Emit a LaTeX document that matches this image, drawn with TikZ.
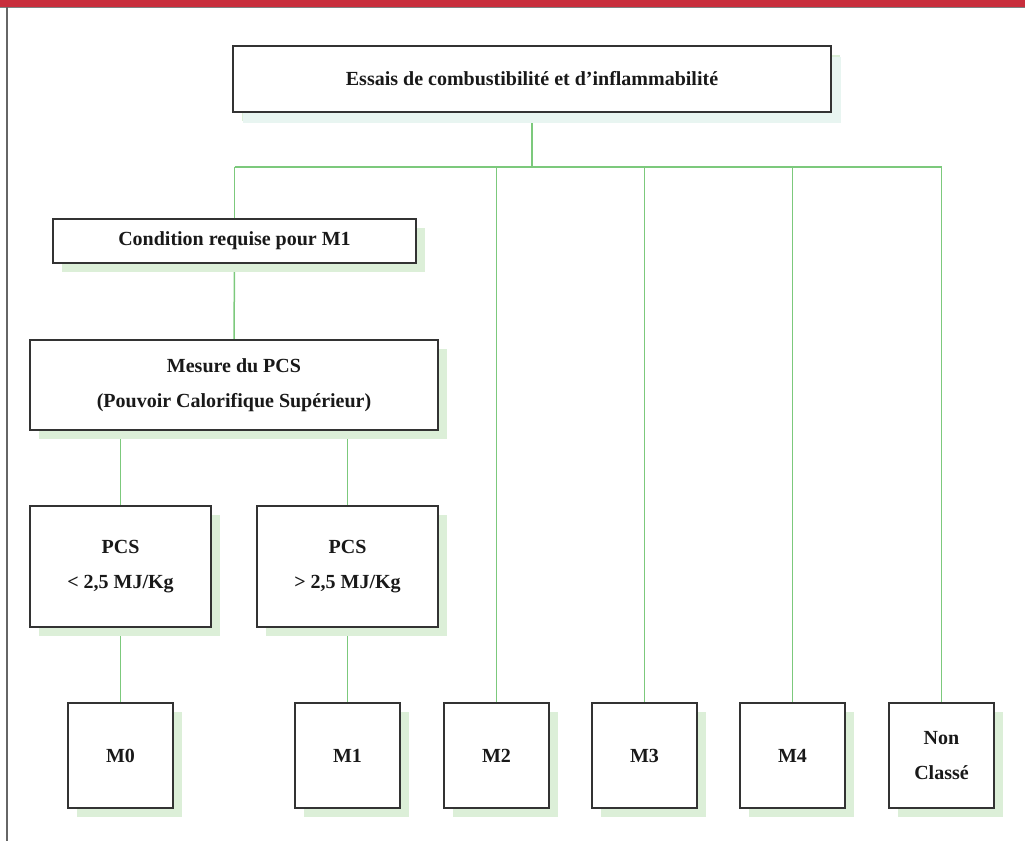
\documentclass[tikz,border=0pt]{standalone}
\usepackage{fontspec}
\setmainfont{Liberation Serif}
\usetikzlibrary{shadows,backgrounds}

\definecolor{framered}{RGB}{200,46,60}
\definecolor{linkgreen}{RGB}{124,201,124}
\definecolor{shadegreen}{RGB}{220,239,216}
\definecolor{shadeteal}{RGB}{232,245,241}
\definecolor{boxline}{RGB}{51,51,51}

\tikzset{
  box/.style={draw=boxline, line width=1.2pt, fill=white, inner sep=0pt,
    align=center, text=black!90, font=\bfseries\fontsize{20}{35.5}\selectfont,
    general shadow={fill=shadegreen, shadow xshift=9pt, shadow yshift=-9pt}},
  link/.style={draw=linkgreen, line width=1.5pt}
}

\begin{document}
\begin{tikzpicture}[x=1pt, y=-1pt]
    \useasboundingbox (0,0) rectangle (1025,841);
    % frame
    \fill [framered] (0,0) rectangle (1025,7);
    \draw [gray, line width=0.8pt] (0,7.8) -- (1025,7.8);
    \draw [black!60, line width=1.5pt] (7,7) -- (7,841);

    \node [box, minimum width=598pt, minimum height=66pt,
      general shadow={fill=shadeteal, shadow xshift=10pt, shadow yshift=-11pt}]
      (essais) at (532,79) {Essais de combustibilité et d’inflammabilité};
    \node [box, minimum width=363pt, minimum height=44pt] (cond) at (234.5,241)
      {Condition requise pour M1};
    \node [box, minimum width=408pt, minimum height=90pt] (pcs) at (234,385)
      {Mesure du PCS\\(Pouvoir Calorifique Supérieur)};
    \node [box, minimum width=181pt, minimum height=121pt] (inf) at (120.5,566.5)
      {PCS\\< 2,5 MJ/Kg};
    \node [box, minimum width=181pt, minimum height=121pt] (sup) at (347.5,566.5)
      {PCS\\> 2,5 MJ/Kg};

    % classes
    \node [box, minimum size=105pt] (m0) at (120.5,755.5) {M0};
    \node [box, minimum size=105pt] (m1) at (347.5,755.5) {M1};
    \node [box, minimum size=105pt] (m2) at (496.5,755.5) {M2};
    \node [box, minimum size=105pt] (m3) at (644.5,755.5) {M3};
    \node [box, minimum size=105pt] (m4) at (792.5,755.5) {M4};
    \node [box, minimum size=105pt] (nc) at (941.5,755.5) {Non\\Classé};

    \coordinate (bus) at (532,167);

    % draw the links
    \begin{scope}[on background layer]
      \draw [link] (essais.south) -- (bus);
      \draw [link] (cond.north |- bus) -- (nc.north |- bus);
      \draw [link] (cond.north) -- (cond.north |- bus);
      \draw [link] (cond.south) -- (pcs.north);
      \draw [link] (inf.north) -- (inf.north |- pcs.south);
      \draw [link] (sup.north) -- (sup.north |- pcs.south);
      \draw [link] (inf.south) -- (m0.north);
      \draw [link] (sup.south) -- (m1.north);
      \foreach \n in {m2,m3,m4,nc}
        \draw [link] (\n.north) -- (\n.north |- bus);
    \end{scope}
  \end{tikzpicture}
\end{document}
